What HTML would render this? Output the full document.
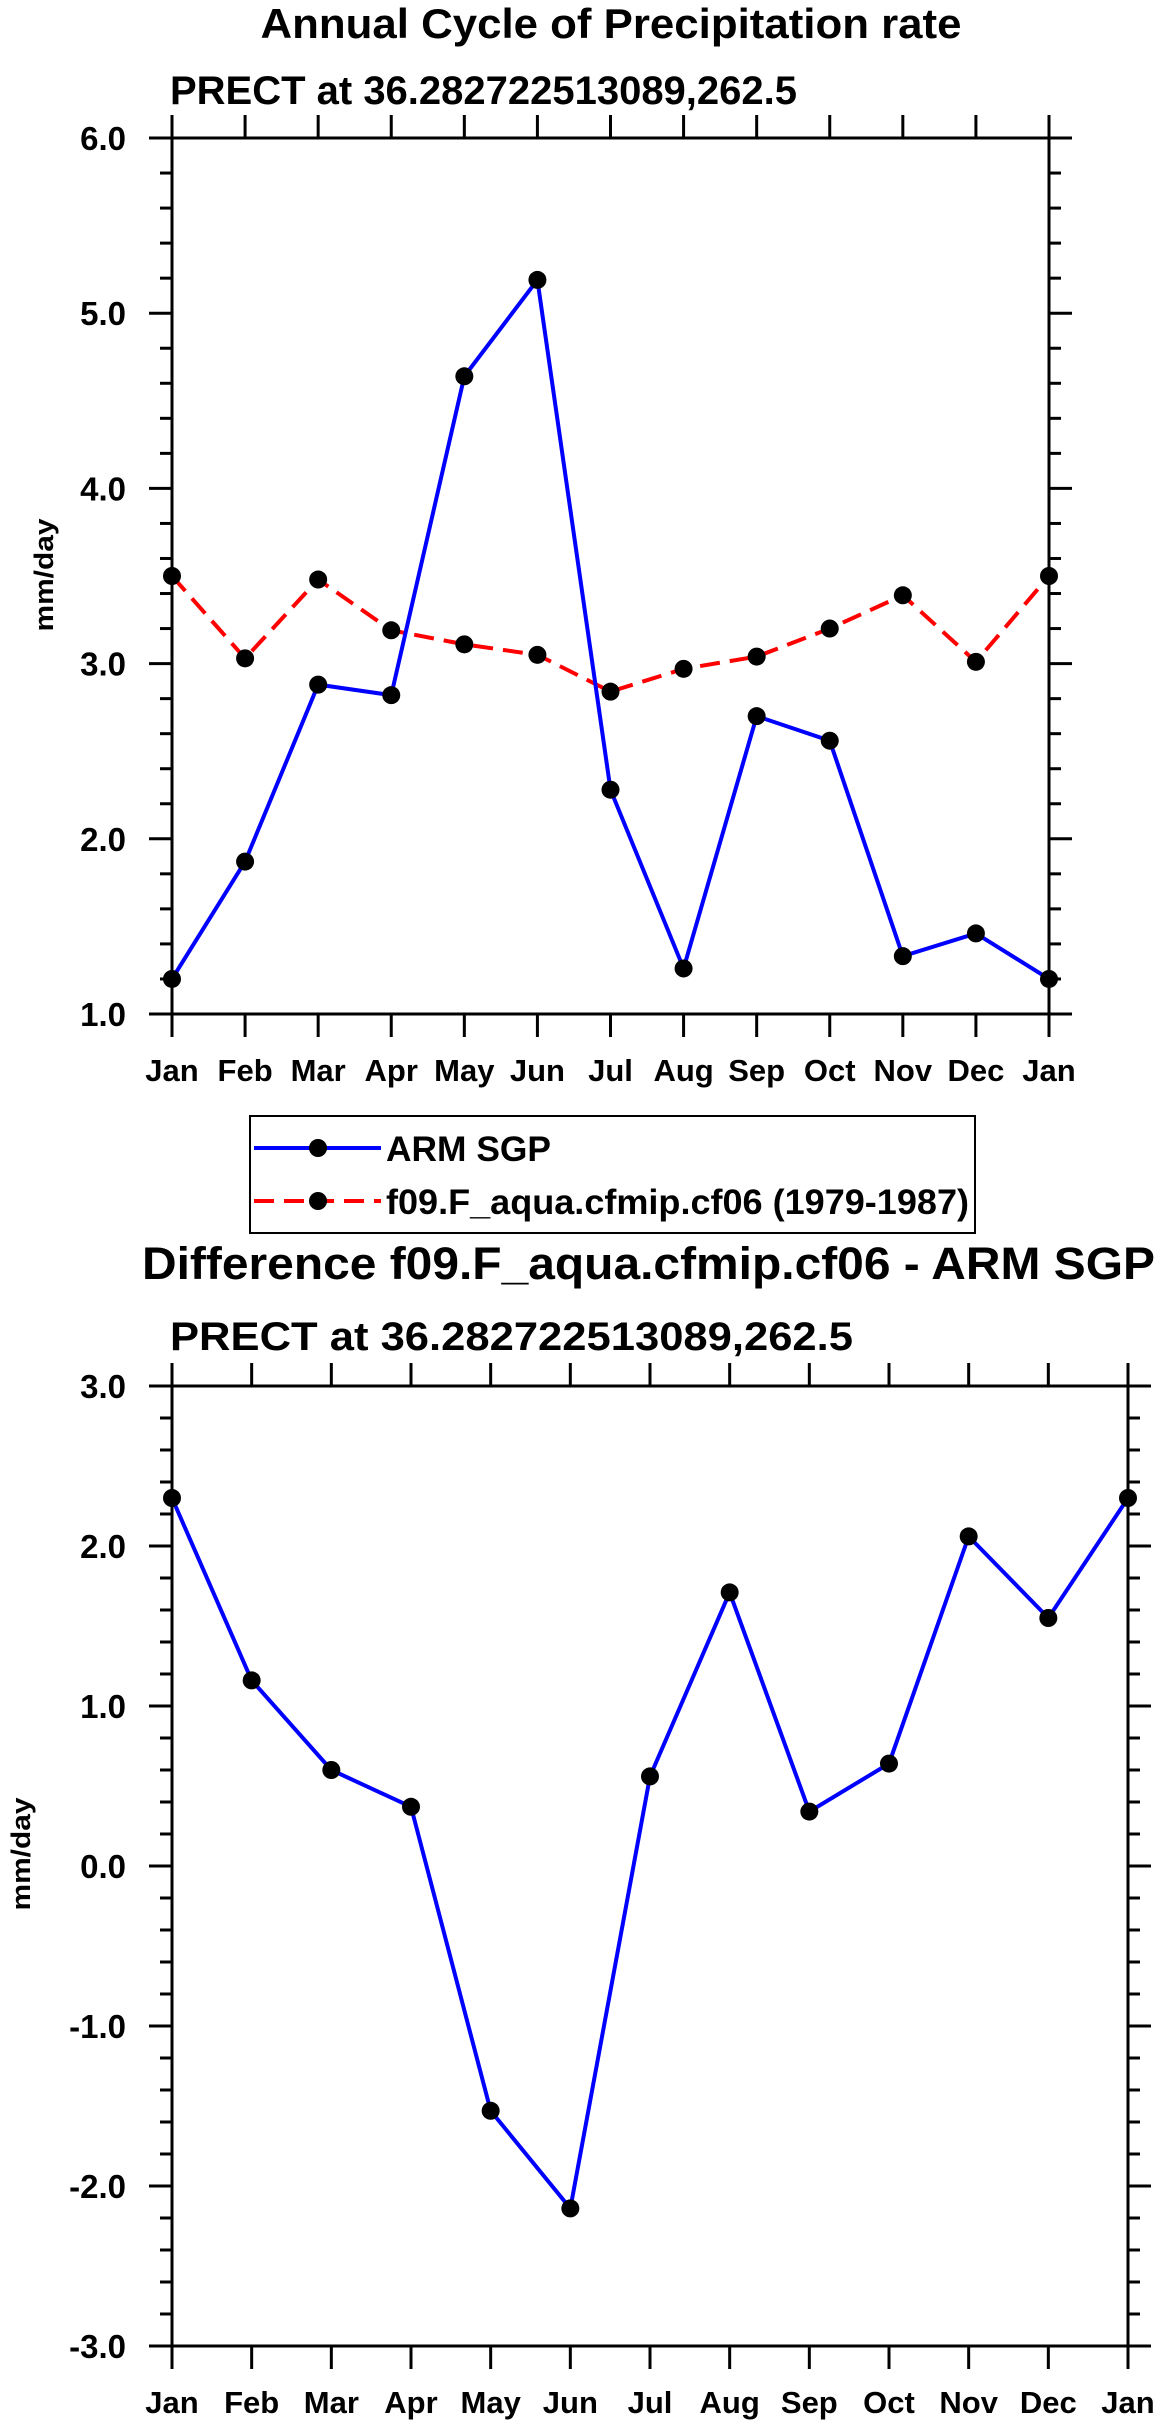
<!DOCTYPE html>
<html><head><meta charset="utf-8"><style>
body{margin:0;background:#fff}
svg{display:block}
text{font-family:"Liberation Sans",sans-serif;font-weight:bold;fill:#000}
</style></head><body>
<svg id="svg" width="1161" height="2430" viewBox="0 0 1161 2430" xmlns="http://www.w3.org/2000/svg">
<text x="611" y="38" font-size="42" text-anchor="middle" textLength="701" lengthAdjust="spacingAndGlyphs">Annual Cycle of Precipitation rate</text>
<text x="170" y="104" font-size="40" textLength="627" lengthAdjust="spacingAndGlyphs">PRECT at 36.282722513089,262.5</text>
<text transform="translate(53,575) rotate(-90)" font-size="27" text-anchor="middle" textLength="113" lengthAdjust="spacingAndGlyphs">mm/day</text>
<g>
<rect x="250" y="1116" width="725" height="117" fill="none" stroke="#000" stroke-width="2"/>
<g>
<line x1="254" y1="1148" x2="381" y2="1148" stroke="#00f" stroke-width="4"/>
<circle cx="318" cy="1148" r="9" fill="#000"/>
<text x="386" y="1161" font-size="35" textLength="165" lengthAdjust="spacingAndGlyphs">ARM SGP</text>
</g>
<g>
<line x1="254" y1="1201" x2="381" y2="1201" stroke="#f00" stroke-width="4" stroke-dasharray="20,10"/>
<circle cx="318" cy="1201" r="9" fill="#000"/>
<text x="386" y="1214" font-size="35" textLength="583" lengthAdjust="spacingAndGlyphs">f09.F_aqua.cfmip.cf06 (1979-1987)</text>
</g>
</g>
<text x="142" y="1279" font-size="45" textLength="1013" lengthAdjust="spacingAndGlyphs">Difference f09.F_aqua.cfmip.cf06 - ARM SGP</text>
<text x="170" y="1350" font-size="40" textLength="683" lengthAdjust="spacingAndGlyphs">PRECT at 36.282722513089,262.5</text>
<text transform="translate(30,1854) rotate(-90)" font-size="27" text-anchor="middle" textLength="113" lengthAdjust="spacingAndGlyphs">mm/day</text>
</svg>
<script>
const months = ["Jan","Feb","Mar","Apr","May","Jun","Jul","Aug","Sep","Oct","Nov","Dec","Jan"];
const armValues = [1.20,1.87,2.88,2.82,4.64,5.19,2.28,1.26,2.70,2.56,1.33,1.46,1.20];
const modelValues = [3.50,3.03,3.48,3.19,3.11,3.05,2.84,2.97,3.04,3.20,3.39,3.01,3.50];
const diffValues = [2.30,1.16,0.60,0.37,-1.53,-2.14,0.56,1.71,0.34,0.64,2.06,1.55,2.30];
const topYTicks = ["1.0","2.0","3.0","4.0","5.0","6.0"];
const bottomYTicks = ["-3.0","-2.0","-1.0","0.0","1.0","2.0","3.0"];

const NS="http://www.w3.org/2000/svg";
const svg=document.getElementById('svg');
function mk(tag,attrs,parent){const e=document.createElementNS(NS,tag);for(const k in attrs)e.setAttribute(k,attrs[k]);(parent||svg).appendChild(e);return e;}

function drawChart(prefix,L,R,T,B,ymin,ymax,yTicks,series){
  const g=mk('g',{});
  
  
  const xs=i=>L+(R-L)*i/(months.length-1);
  const ys=v=>B-(B-T)*(v-ymin)/(ymax-ymin);
  for(let v=ymin;v<=ymax+1e-9;v+=0.2){
    const y=ys(v);
    const major=Math.abs(v-Math.round(v))<1e-6;
    const len=major?23:12;
    mk('line',{x1:L-len,y1:y,x2:L,y2:y,stroke:'#000','stroke-width':3},g);
    mk('line',{x1:R,y1:y,x2:R+len,y2:y,stroke:'#000','stroke-width':3},g);
  }
  yTicks.forEach(t=>{
    const y=ys(parseFloat(t));
    const tx=mk('text',{x:L-46,y:y+12,'font-size':33,'text-anchor':'end'},g);
    tx.textContent=t;
    
    
  });
  months.forEach((m,i)=>{
    const x=xs(i);
    mk('line',{x1:x,y1:B,x2:x,y2:B+23,stroke:'#000','stroke-width':3},g);
    mk('line',{x1:x,y1:T-23,x2:x,y2:T,stroke:'#000','stroke-width':3},g);
    const tx=mk('text',{x:x,y:B+67,'font-size':31,'text-anchor':'middle'},g);
    tx.textContent=m;
    
    
  });
  const frame=mk('rect',{x:L,y:T,width:R-L,height:B-T,fill:'none',stroke:'#000','stroke-width':3},g);
  
  
  series.forEach(s=>{
    const pts=s.values.map((v,i)=>xs(i)+','+ys(v)).join(' ');
    const pl=mk('polyline',{points:pts,fill:'none',stroke:s.color,'stroke-width':4,'stroke-dasharray':s.dash||'none'},g);
    
    
    s.values.forEach((v,i)=>{
      const c=mk('circle',{cx:xs(i),cy:ys(v),r:9,fill:'#000'},g);
      
      
    });
  });
}
drawChart('top',172,1049,138,1014,1,6,topYTicks,[
  {name:'model',values:modelValues,color:'#f00',dash:'20,10'},
  {name:'arm-sgp',values:armValues,color:'#00f'}
]);
drawChart('bottom',172,1128,1386,2346,-3,3,bottomYTicks,[
  {name:'difference',values:diffValues,color:'#00f'}
]);
</script>
</body></html>
